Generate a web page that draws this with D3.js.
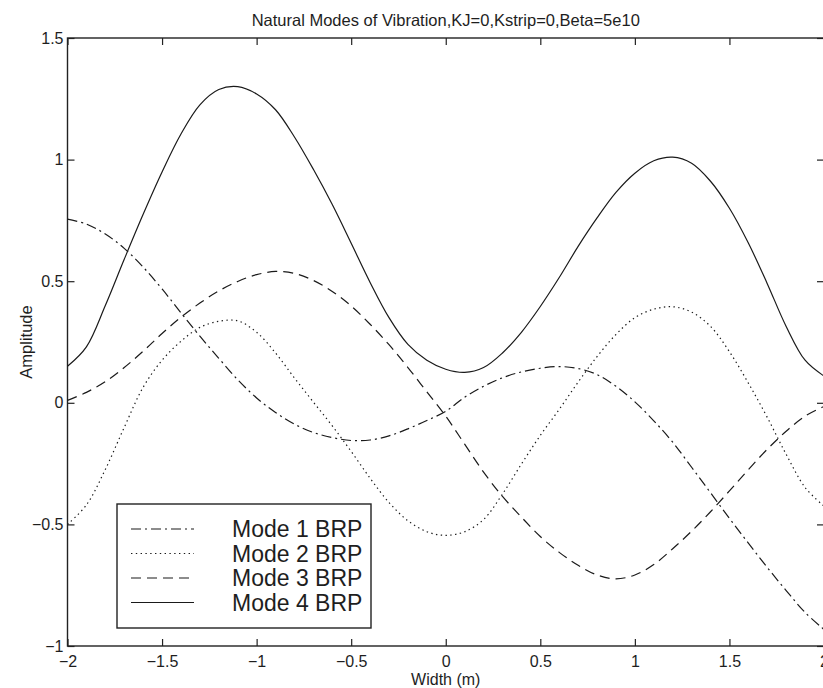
<!DOCTYPE html>
<html lang="en">
<head>
    <title>Natural Modes of Vibration</title>
    <script src="https://d3js.org/d3.v7.min.js"></script>
    <style>
        body { margin: 0; background: #fff; }
        text { font-family: "Liberation Sans", Arial, Helvetica, sans-serif; fill: #1e1e1e; }
    </style>
</head>
<body>
<svg id="chart"></svg>

<script>
    // width across the strip (m)
    const widthPos = [-2.0, -1.9, -1.8, -1.7, -1.6, -1.5, -1.4, -1.3, -1.2, -1.1, -1.0,
                      -0.9, -0.8, -0.7, -0.6, -0.5, -0.4, -0.3, -0.2, -0.1, 0.0,
                       0.1, 0.2, 0.3, 0.4, 0.5, 0.6, 0.7, 0.8, 0.9, 1.0,
                       1.1, 1.2, 1.3, 1.4, 1.5, 1.6, 1.7, 1.8, 1.9, 2.0];

    // amplitudes
    const mode1 = [0.755, 0.735, 0.694, 0.635, 0.558, 0.468, 0.370, 0.274, 0.183, 0.095, 0.020,
                   -0.040, -0.088, -0.122, -0.143, -0.155, -0.153, -0.136, -0.107, -0.073, -0.035,
                   0.023, 0.068, 0.103, 0.127, 0.142, 0.149, 0.141, 0.116, 0.068, 0.004,
                   -0.074, -0.162, -0.265, -0.370, -0.475, -0.577, -0.677, -0.772, -0.862, -0.932];
    const mode2 = [-0.500, -0.420, -0.274, -0.101, 0.064, 0.175, 0.253, 0.310, 0.335, 0.337, 0.290,
                   0.205, 0.102, 0.003, -0.095, -0.200, -0.310, -0.410, -0.485, -0.530, -0.545,
                   -0.530, -0.480, -0.375, -0.252, -0.134, -0.027, 0.085, 0.190, 0.281, 0.350,
                   0.385, 0.395, 0.373, 0.314, 0.210, 0.081, -0.060, -0.212, -0.348, -0.425];
    const mode3 = [0.010, 0.043, 0.087, 0.145, 0.212, 0.285, 0.352, 0.410, 0.460, 0.499, 0.527,
                   0.540, 0.532, 0.503, 0.458, 0.398, 0.323, 0.239, 0.145, 0.045, -0.055,
                   -0.170, -0.285, -0.385, -0.470, -0.550, -0.615, -0.668, -0.708, -0.724, -0.708,
                   -0.665, -0.600, -0.528, -0.448, -0.362, -0.275, -0.191, -0.117, -0.055, -0.015];
    const mode4 = [0.150, 0.230, 0.400, 0.590, 0.775, 0.949, 1.105, 1.225, 1.288, 1.300, 1.270,
                   1.205, 1.093, 0.960, 0.815, 0.656, 0.495, 0.350, 0.240, 0.175, 0.138,
                   0.125, 0.145, 0.205, 0.290, 0.396, 0.515, 0.643, 0.760, 0.865, 0.944,
                   0.995, 1.010, 0.985, 0.911, 0.800, 0.657, 0.490, 0.314, 0.175, 0.110];

    const modeNames = ["Mode 1 BRP", "Mode 2 BRP", "Mode 3 BRP", "Mode 4 BRP"];
    const xTickVals = [-2, -1.5, -1, -0.5, 0, 0.5, 1, 1.5, 2];
    const xTickLabels = ["\u22122", "\u22121.5", "\u22121", "\u22120.5", "0", "0.5", "1", "1.5", "2"];
    const yTickVals = [-1, -0.5, 0, 0.5, 1, 1.5];
    const yTickLabels = ["\u22121", "\u22120.5", "0", "0.5", "1", "1.5"];

    let width = 823,
        height = 688,
        margin = {top: 38, right: -1, bottom: 42, left: 67.5},
        chartWidth = width - margin.left - margin.right,
        chartHeight = height - margin.top - margin.bottom;

    let svg = d3.select("#chart")
        .attr("width", width)
        .attr("height", height);

    let x = d3.scaleLinear().domain([-2, 2]).range([0, chartWidth]);
    let y = d3.scaleLinear().domain([-1, 1.5]).range([chartHeight, 0]);

    let chartArea = svg.append("g")
        .attr("transform", `translate(${margin.left},${margin.top})`);

    // axes, matlab style: inward ticks on all four sides
    let fmtX = d => xTickLabels[xTickVals.indexOf(d)];
    let fmtY = d => yTickLabels[yTickVals.indexOf(d)];

    function styleAxis(g) {
        g.select(".domain").remove();
        g.selectAll(".tick line").attr("stroke", "#222").attr("stroke-width", 1.2);
        g.selectAll("text").attr("font-size", 16).attr("fill", "#1e1e1e");
    }

    chartArea.append("g")
        .attr("transform", `translate(0,${chartHeight})`)
        .call(d3.axisBottom(x).tickValues(xTickVals).tickFormat(fmtX)
            .tickSizeInner(-7).tickSizeOuter(0).tickPadding(10))
        .call(styleAxis);
    chartArea.append("g")
        .call(d3.axisTop(x).tickValues(xTickVals).tickFormat("")
            .tickSizeInner(-7).tickSizeOuter(0))
        .call(styleAxis);
    chartArea.append("g")
        .call(d3.axisLeft(y).tickValues(yTickVals).tickFormat(fmtY)
            .tickSizeInner(-7).tickSizeOuter(0).tickPadding(4))
        .call(styleAxis);
    chartArea.append("g")
        .attr("transform", `translate(${chartWidth},0)`)
        .call(d3.axisRight(y).tickValues(yTickVals).tickFormat("")
            .tickSizeInner(-7).tickSizeOuter(0))
        .call(styleAxis);

    chartArea.append("rect")
        .attr("width", chartWidth)
        .attr("height", chartHeight)
        .attr("fill", "none")
        .attr("stroke", "#222")
        .attr("stroke-width", 1.4);

    // the four mode shapes
    const dashes = ["10,4,2,4", "1.4,3.4", "10,6", null];
    const series = [mode1, mode2, mode3, mode4];

    let line = d3.line()
        .x((d, i) => x(widthPos[i]))
        .y(d => y(d))
        .curve(d3.curveCatmullRom.alpha(0.5));

    chartArea.append("g").selectAll("path")
        .data(series)
        .enter().append("path")
            .attr("d", d => line(d))
            .attr("fill", "none")
            .attr("stroke", "#1a1a1a")
            .attr("stroke-width", 1.2)
            .attr("stroke-dasharray", (d, i) => dashes[i]);

    // legend
    let legend = chartArea.append("g")
        .attr("transform", `translate(${117 - margin.left},${504 - margin.top})`);
    legend.append("rect")
        .attr("width", 254)
        .attr("height", 124)
        .attr("fill", "#fff")
        .attr("stroke", "#222")
        .attr("stroke-width", 1.4);
    let items = legend.selectAll(".item")
        .data(modeNames)
        .enter().append("g")
            .attr("class", "item")
            .attr("transform", (d, i) => `translate(0,${25 + i * 24.5})`);
    items.append("line")
        .attr("x1", 14).attr("x2", 77)
        .attr("stroke", "#1a1a1a")
        .attr("stroke-width", 1.2)
        .attr("stroke-dasharray", (d, i) => dashes[i]);
    items.append("text")
        .attr("x", 115)
        .attr("dy", "0.36em")
        .attr("font-size", 23)
        .text(d => d);

    // labels
    svg.append("text")
        .attr("x", margin.left + x(0))
        .attr("y", 26)
        .attr("text-anchor", "middle")
        .attr("font-size", 16.5)
        .text("Natural Modes of Vibration,KJ=0,Kstrip=0,Beta=5e10");
    svg.append("text")
        .attr("x", margin.left + x(0))
        .attr("y", 685)
        .attr("text-anchor", "middle")
        .attr("font-size", 16)
        .text("Width (m)");
    svg.append("text")
        .attr("transform", `translate(32,${margin.top + chartHeight / 2}) rotate(-90)`)
        .attr("text-anchor", "middle")
        .attr("font-size", 16.5)
        .text("Amplitude");
</script>
</body>
</html>
